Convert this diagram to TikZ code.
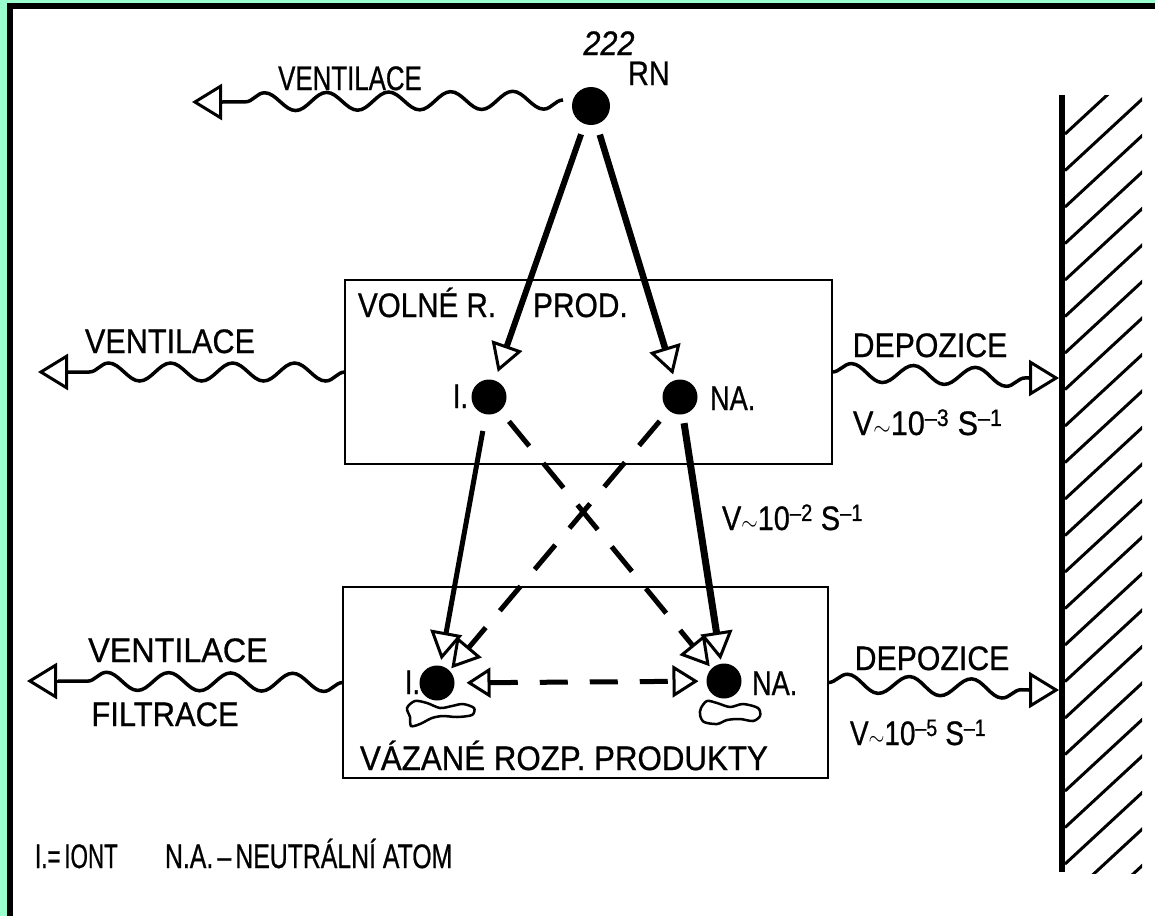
\documentclass[tikz,border=0pt]{standalone}
\usepackage{fontspec}
\setmainfont{Liberation Sans}[FakeBold=0.8,BoldFont=Liberation Sans]
\usetikzlibrary{arrows.meta,decorations.pathmorphing}
\definecolor{mint}{RGB}{153,255,204}
\newcommand\hsq[2]{\scalebox{#1}[1]{#2}}
\begin{document}
\begin{tikzpicture}[x=1pt,y=-1pt,
  lbl/.style={inner sep=0pt,outer sep=0pt,font=\fontsize{34}{38}\selectfont\bfseries},
  dot/.style={circle,fill=black,minimum size=35pt,inner sep=0pt,outer sep=0pt},
  boxst/.style={draw,line width=2.5pt,inner sep=0pt,outer sep=0pt},
  head/.style={-{Triangle[open,length=28pt,width=32pt,line width'=3pt]}},
  headw/.style={-{Triangle[open,length=30pt,width=36pt,line width'=3pt]}},
  flow/.style={line width=5.5pt,head},
  dflow/.style={line width=5pt,head,dash pattern=on 32pt off 22pt},
  wave/.style={line width=3.5pt,decorate,decoration={snake,segment length=62pt,amplitude=9pt}},
  hatch/.style={line width=3pt},
  blob/.style={line width=2.5pt},
]
\fill[white] (0,0) rectangle (1155,916);
\useasboundingbox (0,0) rectangle (1155,916);
% frame
\fill[mint] (0,0) rectangle (7,916);
\fill[mint] (0,0) rectangle (1155,3);
\fill[black] (7,3) rectangle (13,916);
\fill[black] (7,3) rectangle (1155,9);

% boxes
\node[boxst,minimum width=487pt,minimum height=184pt] (boxU) at (588.5,372) {};
\node[boxst,minimum width=485pt,minimum height=191pt] (boxL) at (585.5,682.5) {};

% wall
\coordinate (wallT) at (1062,95);
\coordinate (wallB) at (1062,872);
\draw[line width=6pt] (wallT) -- (wallB);
\begin{scope}
\clip (1065,95) rectangle (1142,873);
\foreach \k in {0,...,22} \draw[hatch] (1065,134+36.5*\k) -- ++(80,-74);
\end{scope}

% blobs
\draw[blob] plot[smooth cycle] coordinates {(407,708) (415,701) (427,703) (440,708) (452,706) (463,704) (474,708) (472,715) (457,717) (443,716) (432,718) (420,724) (411,726) (410,717)};
\draw[blob] plot[smooth cycle] coordinates {(701,708) (707,701) (717,703) (730,707) (743,704) (758,708) (760,716) (753,721) (740,719) (727,720) (717,724) (704,722) (700,715)};

% dots
\node[dot,minimum size=38pt] (Rn) at (591,106) {};
\node[dot] (I1) at (489,397) {};
\node[dot] (N1) at (680,397) {};
\node[dot] (I2) at (437,683) {};
\node[dot] (N2) at (724,681) {};

% flows
\draw[flow,line width=6pt,shorten <=11pt,shorten >=9pt] (Rn) -- (I1);
\draw[flow,line width=6.5pt,shorten <=11pt,shorten >=6pt] (Rn) -- (N1);
\draw[flow,line width=5pt,shorten <=17pt,shorten >=6pt] (I1) -- (I2);
\draw[flow,line width=7pt,shorten <=9pt,shorten >=4pt] (N1) -- (N2);
\draw[dflow,shorten <=14pt,shorten >=3pt] (I1) -- (N2.north west);
\draw[dflow,shorten <=14pt,shorten >=3pt] (N1) -- (I2.north east);
\draw[line width=5pt,dash pattern=on 28pt off 22pt,{Triangle[open,length=24pt,width=30pt,line width'=3pt]}-{Triangle[open,length=26pt,width=32pt,line width'=3pt]},shorten <=12pt,shorten >=8pt] (I2) -- (N2);

% waves
\coordinate (bTop) at (222,102); \coordinate (tTop) at (192,102);
\coordinate (bML) at (68,372);  \coordinate (tML) at (38,372);
\coordinate (bLL) at (58,681);  \coordinate (tLL) at (27,681);
\coordinate (bRU) at (1029,378); \coordinate (tRU) at (1059,378);
\coordinate (bRL) at (1029,690); \coordinate (tRL) at (1059,690);
\draw[wave] ([xshift=-9pt,yshift=6pt]Rn.west) -- (bTop);
\draw[headw,line width=3pt] (bTop) -- (tTop);
\draw[wave] (boxU.west) -- (bML);
\draw[headw,line width=3pt] (bML) -- (tML);
\draw[wave] (boxL.west) -- (bLL);
\draw[headw,line width=3pt] (bLL) -- (tLL);
\draw[wave] (boxU.east) -- (bRU);
\draw[headw,line width=3pt] (bRU) -- (tRU);
\draw[wave] (boxL.east) -- (bRL);
\draw[headw,line width=3pt] (bRL) -- (tRL);

% labels
\node[lbl,anchor=base] (vt) at (350,90) {\hsq{0.76}{VENTILACE}};
\node[lbl,anchor=base] (vm) at (170,353) {\hsq{0.90}{VENTILACE}};
\node[lbl,anchor=base] (vl) at (178,662) {\hsq{0.95}{VENTILACE}};
\node[lbl,anchor=base] (fl) at (165,726) {\hsq{0.91}{FILTRACE}};
\node[lbl,anchor=base] (du) at (930,357) {\hsq{0.89}{DEPOZICE}};
\node[lbl,anchor=base] (dl) at (932,670) {\hsq{0.89}{DEPOZICE}};
\node[lbl,anchor=base west] (vo1) at (358,317) {\hsq{0.87}{VOLNÉ R.}};
\node[lbl,anchor=base west] (vo2) at (533,317) {\hsq{0.88}{PROD.}};
\node[lbl,anchor=base west] (vz) at (360,770) {\hsq{0.92}{VÁZANÉ ROZP. PRODUKTY}};
\node[lbl,anchor=base west] (k3) at (853,435) {\hsq{0.9}{V$\sim$10\textsuperscript{–3} S\textsuperscript{–1}}};
\node[lbl,anchor=base west] (k2) at (722,530) {\hsq{0.85}{V$\sim$10\textsuperscript{–2} S\textsuperscript{–1}}};
\node[lbl,anchor=base west] (k5) at (850,745) {\hsq{0.82}{V$\sim$10\textsuperscript{–5} S\textsuperscript{–1}}};
\node[lbl,anchor=base east] (li1) at (468,408) {\hsq{0.8}{I.}};
\node[lbl,anchor=base west] (ln1) at (710,410) {\hsq{0.8}{NA.}};
\node[lbl,anchor=base east] (li2) at (420,694) {\hsq{0.8}{I.}};
\node[lbl,anchor=base west] (ln2) at (752,695) {\hsq{0.8}{NA.}};
\node[lbl,anchor=base] (iso) at (609,55) {\hsq{0.9}{\itshape 222}};
\node[lbl,anchor=base west] (rn) at (628,85) {\hsq{0.85}{RN}};
\node[lbl,anchor=base west] (lg1) at (35,868) {\hsq{0.66}{I.=\,IONT}};
\node[lbl,anchor=base west] (lg2) at (165,868) {\hsq{0.73}{N.A.\,–\,NEUTRÁLNÍ ATOM}};
\end{tikzpicture}
\end{document}
